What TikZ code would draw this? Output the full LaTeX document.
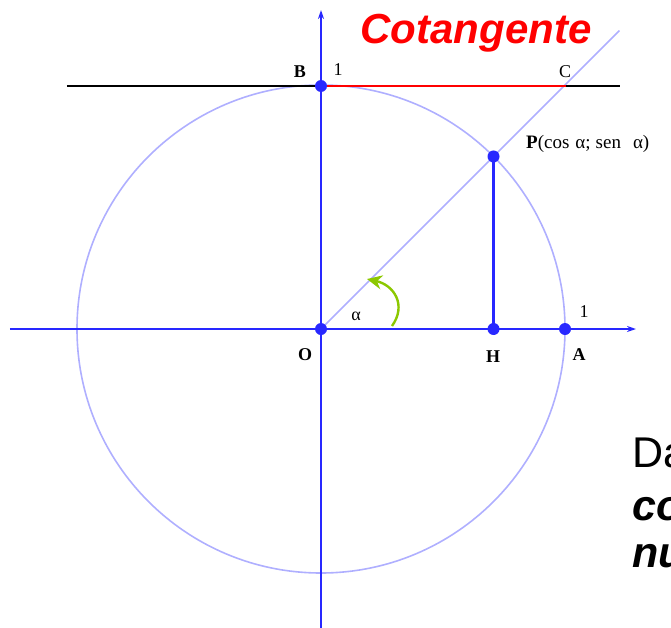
\documentclass[tikz,border=0pt]{standalone}
\usepackage{fontspec}
\setmainfont{Liberation Serif}
\newfontfamily\arialfont{Liberation Sans}
\usetikzlibrary{arrows.meta}
\definecolor{caxe}{RGB}{40,40,255}
\definecolor{ccercle}{RGB}{175,175,255}
\definecolor{cvert}{RGB}{140,200,0}
\definecolor{crouge}{RGB}{255,0,0}

\begin{document}
\begin{tikzpicture}[x=1pt, y=1pt,
  point/.style={circle, fill=caxe, inner sep=0pt, minimum size=12pt},
  etiq/.style={font=\fontsize{18}{20}\selectfont\bfseries, inner sep=0pt},
  texte/.style={font=\arialfont\fontsize{43}{47}\selectfont, anchor=base west, inner sep=0pt}]
  \useasboundingbox (-321,-298) rectangle (350,329);

  % --- points du cercle trigonometrique --------------------------------
  \coordinate (O) at (0,0);
  \coordinate (A) at (244,0);
  \coordinate (B) at (0,243);
  \coordinate (C) at (245,243);
  \coordinate (P) at (45:244);
  \coordinate (H) at (P |- O);
  \coordinate (fin) at (45:422);
  \coordinate (gauche) at (-254,243);
  \coordinate (droite) at (299,243);

  % --- cercle et rayon ---------------------------------------------------
  \draw[ccercle, line width=1.6pt] (O) circle (244);
  \draw[ccercle, line width=1.6pt] (O) -- (fin);

  % --- tangente en B, cotangente en rouge -------------------------------
  \draw[black, line width=1.6pt] (gauche) -- (droite);
  \draw[crouge, line width=1.6pt] (B) -- (C);

  % --- axes ----------------------------------------------------------------
  \draw[caxe, line width=2.8pt, -{Stealth[length=9pt, width=6pt]}]
    (-311,0) -- (315,0);
  \draw[caxe, line width=2.8pt, -{Stealth[length=9pt, width=6pt]}]
    (0,-300) -- (0,319);
  \draw[caxe, line width=2.8pt] (P) -- (H);

  % --- angle alpha -------------------------------------------------------
  \draw[cvert, line width=2.4pt, -{Stealth[length=15pt, width=14pt]}]
    (71,3) .. controls (86,24) and (73,44) .. (46,50);

  % --- points -----------------------------------------------------------
  \foreach \p in {O,A,B,P,H} \node[point] at (\p) {};

  % --- etiquettes --------------------------------------------------------
  \node[etiq] (lB) at (-21,257) {B};
  \node[etiq, font=\fontsize{18}{20}\selectfont] (lun1) at (17,259) {1};
  \node[etiq, font=\fontsize{18}{20}\selectfont] (lC) at (244,257) {C};
  \node[etiq, anchor=west, font=\fontsize{19}{21}\selectfont] (lP) at (205,185)
       {\textbf{P}(cos\hspace{6pt}α;\hspace{5pt}sen\hspace{12pt}α)};
  \node[etiq] (lO) at (-16,-26) {O};
  \node[etiq] (lH) at (172,-28) {H};
  \node[etiq] (lA) at (258,-26) {A};
  \node[etiq, font=\fontsize{18}{20}\selectfont] (lun2) at (263,17) {1};
  \node[etiq, font=\fontsize{18}{20}\selectfont] (lalpha) at (35,13) {α};

  % --- titre --------------------------------------------------------------
  \node[crouge, font=\arialfont\fontsize{42}{46}\selectfont\bfseries\itshape,
        inner sep=0pt] (titre) at (155,296) {Cotangente};

  % --- texte coupe a droite -------------------------------------------
  \node[texte] (l1) at (311,-138) {Da};
  \node[texte, font=\arialfont\fontsize{43}{47}\selectfont\bfseries\itshape]
       (l2) at (311,-191) {co};
  \node[texte, font=\arialfont\fontsize{43}{47}\selectfont\bfseries\itshape]
       (l3) at (311,-238) {nu};
\end{tikzpicture}
\end{document}
